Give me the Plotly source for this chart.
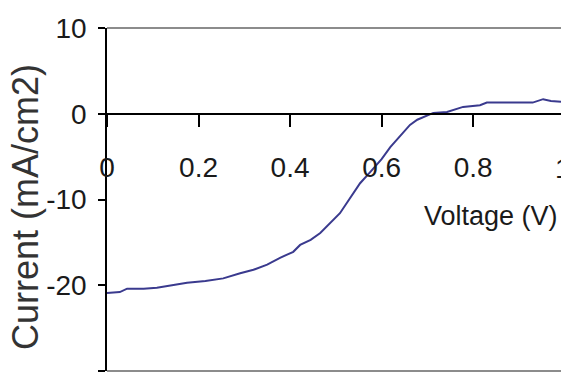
import plotly.graph_objects as go

voltage = [0.000, 0.028, 0.044, 0.080, 0.109, 0.131, 0.175, 0.215, 0.254, 0.291, 0.320,
           0.350, 0.378, 0.407, 0.422, 0.445, 0.466, 0.509, 0.553, 0.575, 0.600, 0.619,
           0.640, 0.662, 0.678, 0.695, 0.713, 0.743, 0.778, 0.815, 0.830, 0.880, 0.930,
           0.953, 0.970, 0.992]
current = [-20.9, -20.8, -20.4, -20.4, -20.3, -20.1, -19.7, -19.5, -19.2, -18.6, -18.2,
           -17.6, -16.8, -16.1, -15.3, -14.7, -13.9, -11.6, -8.1, -6.8, -5.3, -3.9,
           -2.6, -1.3, -0.7, -0.3, 0.1, 0.2, 0.8, 1.0, 1.3, 1.3, 1.3,
           1.7, 1.5, 1.4]
x_ticks = [0, 0.2, 0.4, 0.6, 0.8]
x_tick_text = ["0", "0.2", "0.4", "0.6", "0.8"]
y_ticks = [10, 0, -10, -20, -30]
y_tick_text = ["10", "0", "-10", "-20", "-30"]

font_fam = "Liberation Sans, Arial, sans-serif"
tick_color = "#1a1a1a"

# pixel geometry of the plot area
L, R, T, B = 107, 561, 28, 371
PW, PH = R - L, B - T


def px_x(px):
    return (px - L) / PW


def px_y(py):
    return (B - py) / PH


fig = go.Figure()
fig.add_trace(go.Scatter(x=voltage, y=current, mode="lines",
                         line=dict(color="#3a3a8e", width=2), showlegend=False))

fig.update_layout(
    width=561, height=385,
    margin=dict(l=L, r=561 - R, t=T, b=385 - B, autoexpand=False),
    paper_bgcolor="white", plot_bgcolor="white",
    xaxis=dict(range=[0, 0.992], tickvals=x_ticks, ticktext=x_tick_text,
               anchor="free", position=0.75, showgrid=False, zeroline=False,
               automargin=False,
               showline=True, linecolor="black", linewidth=2,
               ticks="outside", ticklen=12, tickwidth=1.5, tickcolor="black",
               ticklabelstandoff=17,
               tickfont=dict(family=font_fam, size=28, color=tick_color)),
    yaxis=dict(range=[-30, 10], tickvals=y_ticks, ticktext=y_tick_text,
               showgrid=False, zeroline=False, automargin=False,
               showline=True, linecolor="black", linewidth=1.5,
               ticks="outside", ticklen=7, tickwidth=1.5, tickcolor="black",
               ticklabelstandoff=6,
               tickfont=dict(family=font_fam, size=28, color=tick_color)),
    shapes=[
        dict(type="line", xref="paper", yref="paper", x0=0, x1=1, y0=1, y1=1,
             layer="above", line=dict(color="#8c8c8c", width=2)),
        dict(type="line", xref="paper", yref="paper", x0=0, x1=1, y0=0, y1=0,
             layer="above", line=dict(color="#8c8c8c", width=2)),
    ],
    annotations=[
        dict(text="Current (mA/cm2)", xref="paper", yref="paper",
             x=px_x(25), y=px_y(207), xanchor="center", yanchor="middle",
             textangle=-90, showarrow=False,
             font=dict(family=font_fam, size=36, color="#333333")),
        dict(text="Voltage (V)", xref="paper", yref="paper", x=px_x(560),
             y=px_y(216), xanchor="right", yanchor="middle", showarrow=False,
             font=dict(family=font_fam, size=27, color=tick_color)),
        dict(text="1", xref="paper", yref="paper", x=px_x(563),
             y=px_y(168), xanchor="center", yanchor="middle", showarrow=False,
             font=dict(family=font_fam, size=28, color=tick_color)),
    ],
)

fig.write_html(
    "out.html",
    config={"displayModeBar": False},
    post_script="document.body.style.margin='0';document.body.style.overflow='hidden';",
)
